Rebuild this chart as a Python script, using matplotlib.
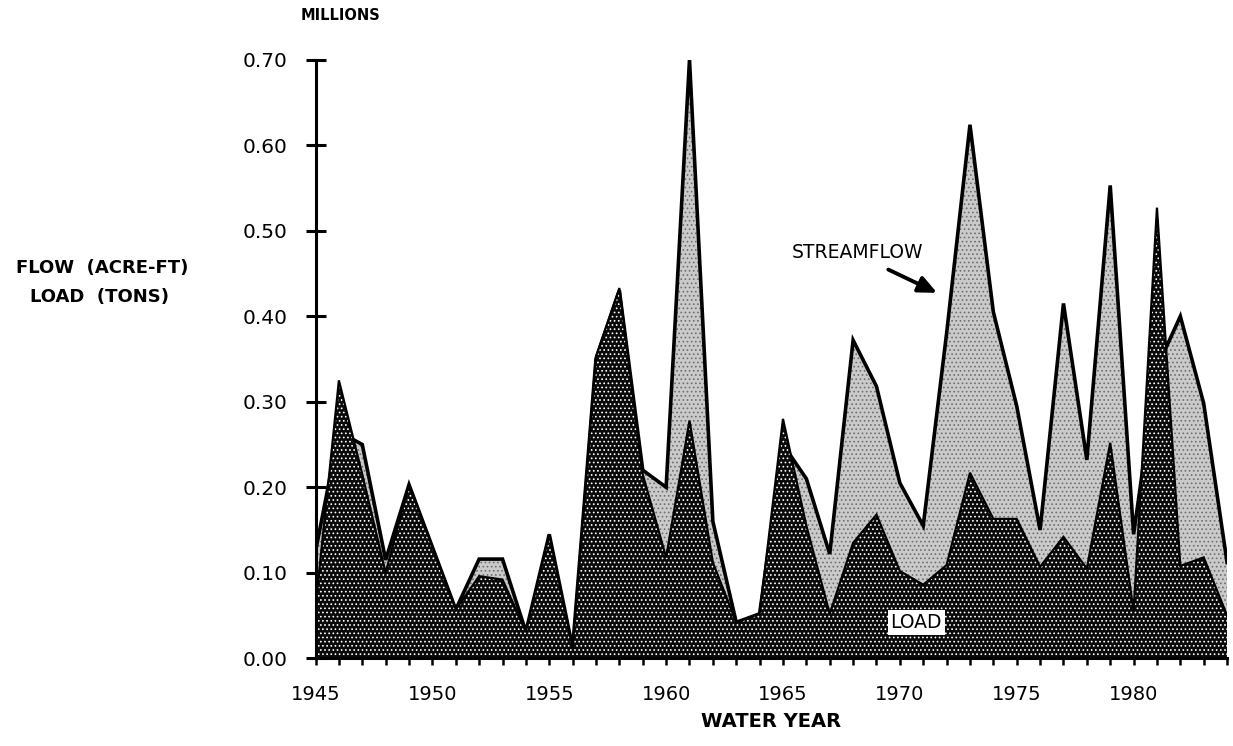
import matplotlib
matplotlib.use("Agg")
import matplotlib.pyplot as plt
import numpy as np

plt.rcParams['font.family'] = ['DejaVu Sans']
plt.rcParams['hatch.linewidth'] = 0.7

years = list(range(1945, 1985))

streamflow = [0.125, 0.265, 0.250, 0.115, 0.203, 0.130, 0.057, 0.116, 0.116, 0.031,
              0.145, 0.012, 0.350, 0.430, 0.220, 0.200, 0.700, 0.160, 0.042, 0.052,
              0.250, 0.210, 0.122, 0.372, 0.318, 0.205, 0.155, 0.380, 0.624, 0.405,
              0.295, 0.150, 0.415, 0.232, 0.553, 0.145, 0.340, 0.400, 0.298, 0.112]

load = [0.060, 0.325, 0.215, 0.100, 0.203, 0.130, 0.057, 0.096, 0.092, 0.031,
        0.145, 0.012, 0.353, 0.433, 0.215, 0.118, 0.278, 0.112, 0.042, 0.052,
        0.280, 0.155, 0.052, 0.135, 0.168, 0.102, 0.086, 0.109, 0.217, 0.163,
        0.163, 0.107, 0.142, 0.105, 0.252, 0.055, 0.527, 0.108, 0.118, 0.050]

xtick_labels = ['1945', '1950', '1955', '1960', '1965', '1970', '1975', '1980']
ytick_values = [0.0, 0.1, 0.2, 0.3, 0.4, 0.5, 0.6, 0.7]

fig = plt.figure(figsize=(12.33, 7.46), dpi=100)
ax = fig.add_axes([0.2559, 0.1176, 0.7393, 0.8023])

# streamflow (light stipple)
ax.fill_between(years, 0, streamflow, facecolor='#cacaca', edgecolor='#6e6e6e',
                hatch='....', linewidth=0, zorder=1)
ax.plot(years, streamflow, color='black', lw=2.6, zorder=2, solid_joinstyle='miter')
# load (dark stipple)
ax.fill_between(years, 0, load, facecolor='#0a0a0a', edgecolor='white',
                hatch='....', linewidth=0, zorder=3)
ax.plot(years, load, color='black', lw=1.6, zorder=4, solid_joinstyle='miter')

ax.set_xlim(1945, 1984)
ax.set_ylim(0, 0.70)

for s in ['top', 'right']:
    ax.spines[s].set_visible(False)
for s in ['left', 'bottom']:
    ax.spines[s].set_linewidth(2.2)
    ax.spines[s].set_zorder(6)

ax.set_xticks(years, minor=True)
ax.set_xticks([int(t) for t in xtick_labels])
ax.set_xticklabels(xtick_labels)
ax.tick_params(axis='x', which='both', direction='out', length=5, width=1.8,
               labelsize=14, pad=14)
ax.set_yticks(ytick_values)
ax.set_yticklabels([f'{v:.2f}' for v in ytick_values])
ax.tick_params(axis='y', direction='inout', length=14, width=2.2, labelsize=14.5, pad=13)

ax.set_xlabel('WATER YEAR', fontsize=14, fontweight='bold', labelpad=6)

fig.text(340/1233, 1 - 16/746, 'MILLIONS', ha='center', va='center',
         fontsize=10.5, fontweight='bold')
fig.text(102/1233, 1 - 268/746, 'FLOW  (ACRE-FT)', ha='center', va='center',
         fontsize=13, fontweight='bold')
fig.text(100/1233, 1 - 297/746, 'LOAD  (TONS)', ha='center', va='center',
         fontsize=13, fontweight='bold')

ax.text(1968.2, 0.475, 'STREAMFLOW', ha='center', va='center', fontsize=13.5, zorder=7)
ax.annotate('', xy=(1971.7, 0.426), xytext=(1969.4, 0.456),
            arrowprops=dict(arrowstyle='-|>,head_length=1.1,head_width=0.5',
                            lw=2.8, color='black'), zorder=7)
ax.text(1970.7, 0.042, 'LOAD', ha='center', va='center', fontsize=13.5, zorder=7,
        bbox=dict(facecolor='white', edgecolor='none', pad=2))

fig.savefig('out.png', dpi=100)
